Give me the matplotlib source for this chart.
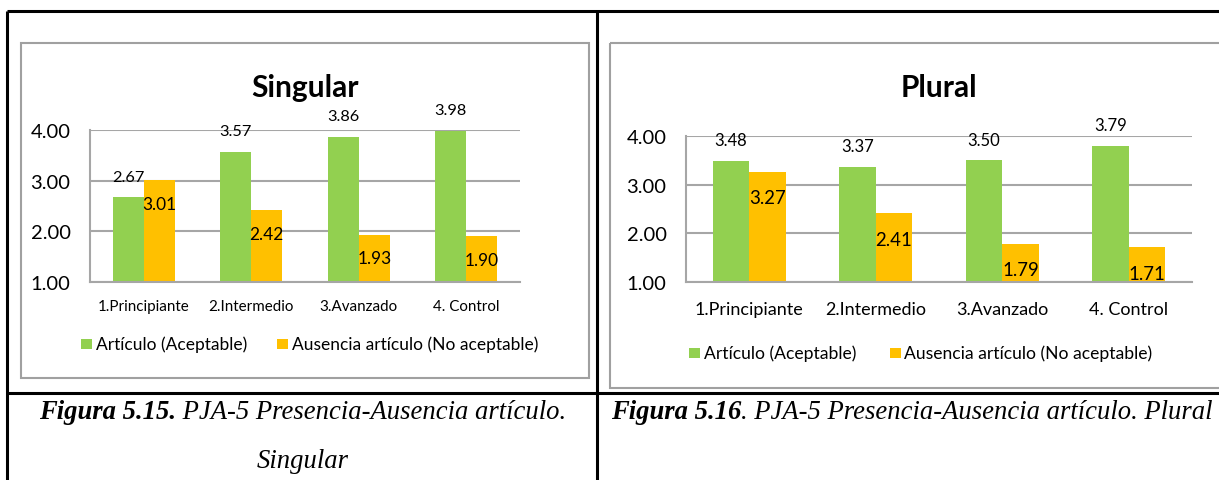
import matplotlib
matplotlib.use("Agg")
import matplotlib.pyplot as plt
from matplotlib.patches import Rectangle

W, H = 1219, 481

categories = ["1.Principiante", "2.Intermedio", "3.Avanzado", "4. Control"]
series_names = ["Artículo (Aceptable)", "Ausencia artículo (No aceptable)"]
singular_art = [2.67, 3.57, 3.86, 3.98]
singular_aus = [3.01, 2.42, 1.93, 1.90]
plural_art = [3.48, 3.37, 3.50, 3.79]
plural_aus = [3.27, 2.41, 1.79, 1.71]
yticks = [1.0, 2.0, 3.0, 4.0]

GREEN = "#92D050"
ORANGE = "#FFC000"
GRID = "#A6A6A6"
SANS = "Lato"
SERIF = "Liberation Serif"
CAP = 19.2

fig = plt.figure(figsize=(W / 100, H / 100), dpi=100)

# background layer in pixel coords for the table and chart frames
bg = fig.add_axes([0, 0, 1, 1], zorder=0)
bg.set_xlim(0, W)
bg.set_ylim(H, 0)
bg.axis("off")

# table lines
for xs, ys in [((7, W), (12, 12)), ((7, W), (394, 394)),
               ((7, 7), (12, H)), ((597, 597), (12, H))]:
    bg.plot(xs, ys, color="black", lw=2.2, solid_capstyle="butt")

# chart frames
bg.add_patch(Rectangle((21, 44), 568, 335, fill=False, ec="#A0A0A0", lw=1.5))
bg.add_patch(Rectangle((610, 44), 640, 345, fill=False, ec="#A0A0A0", lw=1.5))


def px_axes(x0, y0, x1, y1):
    return fig.add_axes([x0 / W, 1 - y1 / H, (x1 - x0) / W, (y1 - y0) / H], zorder=2)


def draw_chart(ax, title, art, aus, csize, gsize, osize, goff, ooff,
               title_y, cat_pad, leg):
    x = list(range(len(categories)))
    w = 0.288
    ax.bar([i - w / 2 for i in x], art, w, color=GREEN, zorder=2)
    ax.bar([i + w / 2 for i in x], aus, w, color=ORANGE, zorder=2)
    ax.set_ylim(1, 4)
    ax.set_xlim(-0.5, 3.5)
    ax.set_yticks(yticks)
    ax.set_yticklabels(["%.2f" % v for v in yticks], fontsize=14.5, family=SANS)
    ax.set_xticks(x)
    ax.set_xticklabels(categories, fontsize=csize, family=SANS)
    ax.tick_params(length=0)
    ax.tick_params(axis="y", pad=14)
    ax.tick_params(axis="x", pad=cat_pad)
    ax.grid(axis="y", color=GRID, lw=1.5, zorder=1)
    ax.set_axisbelow(True)
    for s in ["top", "right"]:
        ax.spines[s].set_visible(False)
    for s in ["left", "bottom"]:
        ax.spines[s].set_color(GRID)
        ax.spines[s].set_linewidth(1.5)
    for i in x:
        ax.annotate("%.2f" % art[i], (i - w / 2, art[i]), xytext=(0, goff),
                    textcoords="offset points", ha="center", va="center",
                    fontsize=gsize, family=SANS, annotation_clip=False)
        ax.annotate("%.2f" % aus[i], (i + w / 2, aus[i]), xytext=(0, ooff),
                    textcoords="offset points", ha="center", va="center",
                    fontsize=osize, family=SANS, annotation_clip=False)
    ax.text(0.5, title_y, title, transform=ax.transAxes, ha="center", va="center",
            fontsize=21.5, fontweight="bold", family=SANS)
    # legend drawn by hand to match placement
    (gx, ox, ly, sq, lsize) = leg
    for sx, col, name in [(gx, GREEN, series_names[0]), (ox, ORANGE, series_names[1])]:
        bg.add_patch(Rectangle((sx, ly - sq / 2), sq, sq, color=col, lw=0))
        bg.text(sx + sq + 4, ly, name, ha="left", va="center", fontsize=lsize, family=SANS)


ax1 = px_axes(90, 131, 520, 283)
draw_chart(ax1, "Singular", singular_art, singular_aus, 10.9, 11.8, 12.4, 15, -17,
           (283 - 88) / 152, 12, (81, 277, 345, 10.5, 12.5))

ax2 = px_axes(686, 137, 1192, 283)
draw_chart(ax2, "Plural", plural_art, plural_aus, 13, 12, 13.4, 15, -19,
           (283 - 88) / 146, 14, (689, 890, 354, 10.5, 12.6))

# captions with a bold lead-in
rend = fig.canvas.get_renderer()


def caption(x, y, bold, rest, center=None):
    t1 = bg.text(x, y, bold, ha="left", va="center", fontsize=CAP, family=SERIF,
                 style="italic", fontweight="bold")
    t2 = bg.annotate(rest, xy=(1, 0.5), xycoords=t1, ha="left", va="center",
                     fontsize=CAP, family=SERIF, style="italic")
    if center is not None:
        w1 = t1.get_window_extent(rend).width
        w2 = t2.get_window_extent(rend).width
        t1.set_x(center - (w1 + w2) / 2)


caption(0, 413, "Figura 5.15.", " PJA-5 Presencia-Ausencia artículo.", center=303)
bg.text(303, 462, "Singular", ha="center", va="center", fontsize=CAP,
        family=SERIF, style="italic")
caption(611, 413, "Figura 5.16", ". PJA-5 Presencia-Ausencia artículo. Plural")

fig.savefig("out.png", dpi=100)
